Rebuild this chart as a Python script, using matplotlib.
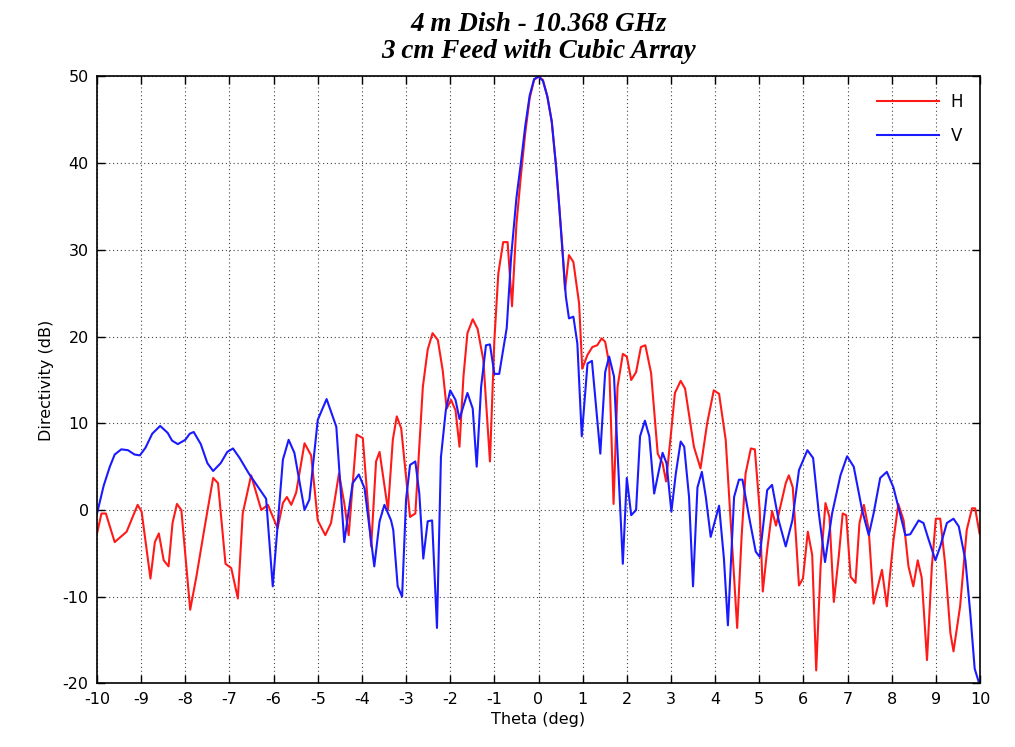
import numpy as np
import matplotlib
matplotlib.use('Agg')
import matplotlib.pyplot as plt

# Horizontal polarisation pattern (theta in deg, directivity in dB)
theta_h = [-10.00, -9.90, -9.80, -9.60, -9.33, -9.08, -8.99, -8.79, -8.69, -8.60,
           -8.49, -8.38, -8.29, -8.19, -8.09, -7.89, -7.75, -7.56, -7.37, -7.26,
           -7.09, -6.96, -6.81, -6.70, -6.51, -6.28, -6.13, -5.91, -5.79, -5.70,
           -5.60, -5.49, -5.30, -5.15, -5.00, -4.83, -4.70, -4.52, -4.40, -4.30,
           -4.12, -3.98, -3.79, -3.68, -3.60, -3.41, -3.30, -3.21, -3.11, -3.00,
           -2.91, -2.79, -2.62, -2.51, -2.40, -2.28, -2.17, -2.08, -1.98, -1.88,
           -1.79, -1.70, -1.61, -1.49, -1.38, -1.25, -1.10, -1.00, -0.91, -0.80,
           -0.70, -0.60, -0.50, -0.40, -0.30, -0.20, -0.10, 0.00, 0.10, 0.20,
           0.30, 0.40, 0.47, 0.54, 0.60, 0.69, 0.79, 0.92, 0.99, 1.11,
           1.22, 1.33, 1.43, 1.51, 1.60, 1.70, 1.79, 1.91, 2.00, 2.10,
           2.21, 2.32, 2.42, 2.55, 2.70, 2.81, 2.89, 3.00, 3.09, 3.22,
           3.32, 3.52, 3.67, 3.82, 3.97, 4.09, 4.24, 4.38, 4.50, 4.60,
           4.69, 4.81, 4.90, 5.01, 5.08, 5.18, 5.29, 5.38, 5.60, 5.67,
           5.76, 5.90, 5.99, 6.10, 6.20, 6.29, 6.39, 6.50, 6.59, 6.69,
           6.80, 6.89, 6.97, 7.07, 7.18, 7.27, 7.37, 7.48, 7.59, 7.78,
           7.89, 8.04, 8.15, 8.27, 8.38, 8.49, 8.59, 8.68, 8.80, 8.91,
           9.00, 9.10, 9.21, 9.33, 9.40, 9.55, 9.70, 9.82, 9.89, 9.99]
dir_h = [-2.7, -0.4, -0.4, -3.7, -2.5, 0.6, -0.2, -7.9, -3.7, -2.7,
         -5.8, -6.5, -1.5, 0.7, 0.0, -11.5, -7.7, -1.9, 3.7, 3.1,
         -6.2, -6.7, -10.2, -0.4, 4.0, 0.0, 0.6, -2.1, 0.8, 1.5,
         0.6, 2.0, 7.7, 6.3, -1.2, -2.9, -1.5, 4.2, 0.8, -2.9,
         8.7, 8.3, -4.2, 5.6, 6.7, 0.0, 8.1, 10.8, 9.4, 3.8,
         -0.8, -0.4, 14.2, 18.5, 20.4, 19.6, 16.1, 11.7, 12.7, 11.5,
         7.3, 15.4, 20.4, 22.0, 20.9, 17.3, 5.6, 19.6, 27.3, 30.9,
         30.9, 23.5, 33.0, 38.5, 43.5, 47.5, 49.6, 50.0, 49.6, 47.7,
         44.8, 39.5, 35.0, 30.4, 25.4, 29.4, 28.6, 23.8, 16.3, 17.9,
         18.8, 19.0, 19.8, 19.4, 16.9, 0.7, 14.2, 18.0, 17.7, 15.0,
         15.9, 18.8, 19.0, 15.8, 6.5, 5.4, 3.3, 8.8, 13.5, 14.9,
         14.0, 7.3, 4.8, 10.0, 13.8, 13.4, 8.1, -3.5, -13.6, -3.1,
         4.2, 7.1, 7.0, 0.0, -9.4, -4.6, -0.1, -1.8, 3.1, 4.0,
         2.6, -8.7, -7.9, -2.5, -5.2, -18.5, -6.5, 0.8, -0.8, -10.6,
         -5.4, -0.4, -0.6, -7.7, -8.4, -1.5, 0.6, -2.3, -10.8, -6.9,
         -11.1, -3.5, 0.7, -1.2, -6.5, -8.8, -5.8, -7.8, -17.3, -6.5,
         -1.0, -1.0, -6.2, -14.2, -16.3, -11.1, -2.3, 0.2, 0.2, -2.7]

# Vertical polarisation pattern
theta_v = [-10.00, -9.85, -9.71, -9.60, -9.45, -9.30, -9.15, -9.03, -8.90, -8.75,
           -8.57, -8.40, -8.30, -8.17, -8.00, -7.90, -7.81, -7.65, -7.50, -7.37,
           -7.20, -7.05, -6.92, -6.77,
           -6.56, -6.17, -6.02, -5.79, -5.66, -5.53, -5.30, -5.19, -5.00, -4.80,
           -4.58, -4.40, -4.21, -4.07, -3.94, -3.72, -3.60, -3.49, -3.34, -3.29,
           -3.19, -3.09, -3.00, -2.91, -2.79, -2.70, -2.61, -2.51, -2.41, -2.30,
           -2.21, -2.10, -2.00, -1.88, -1.79, -1.61, -1.49, -1.40, -1.30, -1.19,
           -1.10, -1.00, -0.89, -0.72, -0.62, -0.50, -0.40, -0.30, -0.20, -0.10,
           0.00, 0.10, 0.20, 0.30, 0.40, 0.47, 0.54, 0.62, 0.69, 0.79,
           0.88, 0.98, 1.11, 1.21, 1.40, 1.51, 1.60, 1.71, 1.91, 2.00,
           2.10, 2.21, 2.30, 2.41, 2.51, 2.62, 2.81, 2.90, 3.01, 3.11,
           3.22, 3.30, 3.41, 3.50, 3.60, 3.70, 3.79, 3.90, 4.09, 4.20,
           4.29, 4.43, 4.54, 4.62, 4.77, 4.92, 5.01, 5.18, 5.29, 5.44,
           5.60, 5.75, 5.90, 6.09, 6.22, 6.35, 6.49, 6.65, 6.84, 6.99,
           7.14, 7.33, 7.48, 7.59, 7.74, 7.89, 8.04, 8.31, 8.42, 8.61,
           8.72, 8.83, 8.99, 9.10, 9.25, 9.40, 9.52, 9.67, 9.78, 9.88,
           9.97]
dir_v = [-0.4, 2.8, 5.0, 6.4, 7.0, 6.9, 6.4, 6.3, 7.2, 8.8,
         9.7, 8.9, 8.0, 7.6, 8.1, 8.8, 9.0, 7.6, 5.4, 4.5,
         5.4, 6.7, 7.1, 6.0,
         4.2, 1.3, -8.8, 5.8, 8.1, 6.6, 0.0, 1.2, 10.4, 12.8,
         9.6, -3.7, 3.1, 4.1, 2.5, -6.5, -1.3, 0.6, -1.2, -2.3,
         -8.8, -10.0, 1.2, 5.2, 5.6, 1.9, -5.6, -1.3, -1.2, -13.6,
         6.1, 11.5, 13.8, 12.7, 10.5, 13.5, 11.7, 5.0, 14.2, 19.0,
         19.1, 15.7, 15.7, 21.0, 29.2, 36.0, 40.0, 44.3, 47.8, 49.7,
         50.0, 49.5, 47.7, 44.8, 39.5, 35.0, 30.0, 24.6, 22.1, 22.3,
         19.2, 8.5, 16.9, 17.2, 6.5, 15.9, 17.7, 15.4, -6.2, 3.7,
         -0.6, 0.0, 8.5, 10.3, 8.5, 1.9, 6.6, 5.4, -0.2, 4.2,
         7.9, 7.3, 1.5, -8.8, 2.6, 4.4, 1.5, -3.1, 0.5, -5.6,
         -13.3, 1.5, 3.5, 3.5, -0.8, -4.8, -5.4, 2.3, 2.9, -1.2,
         -4.2, -1.2, 4.6, 6.9, 6.0, -0.4, -6.0, -0.4, 4.0, 6.2,
         5.0, 0.0, -2.9, -0.4, 3.7, 4.4, 2.6, -2.9, -2.8, -1.2,
         -1.5, -3.3, -5.8, -4.2, -1.5, -1.0, -1.9, -5.8, -11.9, -18.3,
         -19.8]

x_ticks = np.arange(-10, 11, 1)
y_ticks = np.arange(-20, 51, 10)

plt.rcParams['font.family'] = 'DejaVu Sans'
plt.rcParams['axes.unicode_minus'] = False

fig = plt.figure(figsize=(10.15, 7.47), dpi=100)
ax = fig.add_axes([0.0956, 0.0851, 0.8699, 0.8125])

ax.plot(theta_h, dir_h, color='#ff1a1a', linewidth=1.5, label='H')
ax.plot(theta_v, dir_v, color='#1a1aff', linewidth=1.5, label='V')

ax.set_xlim(-10, 10)
ax.set_ylim(-20, 50)
ax.set_xticks(x_ticks)
ax.set_yticks(y_ticks)
ax.tick_params(direction='in', length=6, width=1, top=True, right=True,
               labelsize=11.5, pad=6)
ax.grid(True, color='#444444', linestyle=(0, (1, 2.5)), linewidth=0.8)
for s in ax.spines.values():
    s.set_linewidth(1.2)

ax.set_xlabel('Theta (deg)', fontsize=11.5, labelpad=4)
ax.set_ylabel('Directivity (dB)', fontsize=11.5, labelpad=6)
ax.set_title('4 m Dish - 10.368 GHz\n3 cm Feed with Cubic Array',
             fontsize=19.5, fontweight='bold', fontstyle='italic',
             family='Liberation Serif', linespacing=1.15, pad=13)

leg = ax.legend(loc='upper right', frameon=False, fontsize=12,
                handlelength=3.7, handletextpad=0.7, labelspacing=0.95,
                borderaxespad=0.6)

fig.savefig('out.png', dpi=100)
